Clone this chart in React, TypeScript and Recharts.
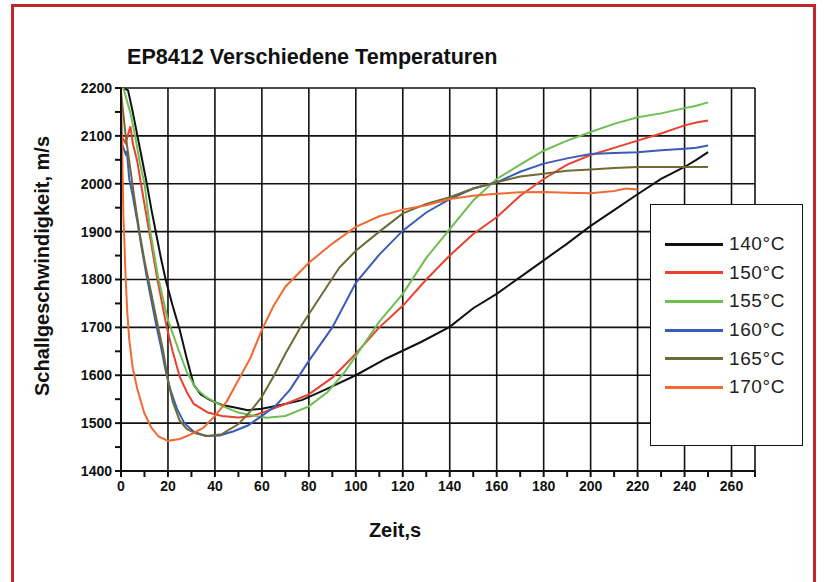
import React from 'react';
import { LineChart, Line, XAxis, YAxis, CartesianGrid, Legend } from 'recharts';

const title = 'EP8412 Verschiedene Temperaturen';
const xLabel = 'Zeit,s';
const yLabel = 'Schallgeschwindigkeit, m/s';

const xTicks = [0, 10, 20, 30, 40, 50, 60, 70, 80, 90, 100, 110, 120, 130, 140, 150, 160, 170, 180, 190, 200, 210, 220, 230, 240, 250, 260, 270];
const xGrid = [0, 20, 40, 60, 80, 100, 120, 140, 160, 180, 200, 220, 240, 260, 270];
const yTicks = [1400, 1450, 1500, 1550, 1600, 1650, 1700, 1750, 1800, 1850, 1900, 1950, 2000, 2050, 2100, 2150, 2200];
const yGrid = [1400, 1500, 1600, 1700, 1800, 1900, 2000, 2100, 2200];

const names = ['140°C', '150°C', '155°C', '160°C', '165°C', '170°C'];
const colors = ['#111111', '#e8412e', '#6cc052', '#3a5cb8', '#6d6a33', '#f06a32'];

const t140 = [1, 3, 5, 7, 9, 11, 13, 15, 17, 19, 22, 25, 28, 31, 34, 38, 43, 48, 54, 60, 68, 77, 87, 100, 113, 128, 140, 150, 160, 170, 180, 190, 200, 210, 220, 230, 240, 245, 250];
const v140 = [2200, 2195, 2150, 2100, 2050, 2000, 1945, 1895, 1845, 1800, 1745, 1695, 1635, 1580, 1560, 1548, 1538, 1533, 1527, 1530, 1538, 1548, 1570, 1600, 1635, 1670, 1701, 1740, 1770, 1805, 1840, 1875, 1912, 1945, 1978, 2010, 2035, 2050, 2066];

const t150 = [0, 2, 4, 5, 7, 8.5, 12, 15.5, 19.5, 22, 25, 28, 31, 37, 43, 50, 56, 62, 70, 80, 90, 100, 110, 120, 130, 140, 150, 160, 170, 180, 190, 200, 210, 220, 230, 240, 245, 250];
const v150 = [2100, 2085, 2120, 2085, 2045, 2000, 1900, 1800, 1700, 1650, 1597, 1565, 1540, 1522, 1515, 1512, 1515, 1525, 1540, 1560, 1595, 1645, 1700, 1745, 1800, 1850, 1895, 1930, 1975, 2010, 2040, 2060, 2075, 2090, 2105, 2122, 2128, 2132];

const t155 = [0, 1, 4, 6, 8, 10, 12.5, 16, 20, 24, 28, 32, 36, 40, 45, 50, 55, 62, 70, 80, 88, 95, 100, 110, 120, 130, 140, 150, 160, 170, 180, 190, 200, 210, 220, 230, 240, 245, 250];
const v155 = [2200, 2200, 2148, 2100, 2045, 2000, 1900, 1800, 1715, 1660, 1607, 1572, 1555, 1544, 1532, 1522, 1517, 1511, 1515, 1535, 1565, 1605, 1640, 1712, 1770, 1845, 1905, 1965, 2010, 2040, 2069, 2090, 2108, 2125, 2139, 2147, 2158, 2163, 2170];

const t160 = [0, 1, 2, 2.5, 3.5, 5, 7, 9, 11, 13, 15, 17, 19, 21, 24, 27, 31, 36, 42, 48, 54, 60, 66, 72, 80, 90, 100, 110, 120, 130, 140, 150, 160, 170, 180, 190, 200, 210, 220, 230, 240, 245, 250];
const v160 = [2090, 2075, 2062, 2068, 2010, 1975, 1920, 1860, 1805, 1755, 1705, 1660, 1610, 1570, 1528, 1500, 1482, 1473, 1474, 1483, 1495, 1515, 1537, 1570, 1630, 1700, 1793, 1852, 1902, 1940, 1968, 1990, 2003, 2025, 2042, 2053, 2062, 2064, 2066, 2070, 2073, 2075, 2080];

const t165 = [0, 2, 4, 6, 8, 10, 12.5, 15, 18, 20, 22, 25, 28, 32, 37, 43, 50, 55, 60, 65, 70, 77, 85, 93, 100, 110, 120, 130, 140, 150, 160, 170, 180, 190, 200, 210, 220, 230, 240, 250];
const v165 = [2190, 2100, 2030, 1960, 1895, 1840, 1780, 1720, 1650, 1590, 1545, 1505, 1488, 1478, 1473, 1477, 1498, 1524, 1555, 1598, 1645, 1705, 1765, 1825, 1860, 1900, 1938, 1958, 1972, 1990, 2003, 2015, 2021, 2027, 2030, 2033, 2035, 2035, 2035, 2035];

const t170 = [0, 0.5, 1, 1.5, 2, 2.7, 3.5, 5, 7, 10, 13, 16, 20, 25, 30, 35, 40, 45, 50, 55, 60, 65, 70, 80, 90, 100, 110, 120, 130, 140, 150, 160, 170, 180, 190, 200, 210, 215, 220];
const v170 = [2200, 2080, 1935, 1870, 1800, 1730, 1675, 1615, 1570, 1520, 1490, 1472, 1463, 1467, 1477, 1490, 1515, 1545, 1590, 1635, 1695, 1745, 1785, 1835, 1875, 1910, 1932, 1946, 1955, 1968, 1975, 1979, 1982, 1983, 1981, 1980, 1985, 1990, 1988];

const times = [t140, t150, t155, t160, t165, t170];
const values = [v140, v150, v155, v160, v165, v170];

const seriesData = times.map((ts, i) => ts.map((t, j) => ({ t, v: values[i][j] })));

const FONT = "'Liberation Sans', Arial, Helvetica, sans-serif";

const LegendBox = () => (
  <div
    style={{
      width: 153,
      height: 242,
      background: '#fff',
      border: '1.5px solid #111',
      boxSizing: 'border-box',
      paddingTop: 25,
      fontFamily: FONT,
    }}
  >
    {names.map((n, i) => (
      <div key={n} style={{ display: 'flex', alignItems: 'center', height: 28.6, marginLeft: 14 }}>
        <div style={{ width: 58, height: 3, background: colors[i] }} />
        <span style={{ marginLeft: 6, fontSize: 19, color: '#222', letterSpacing: 0.6 }}>{n}</span>
      </div>
    ))}
  </div>
);

export default function App() {
  return (
    <div style={{ position: 'absolute', left: 0, top: 0, width: 826, height: 582, overflow: 'hidden', background: '#fff' }}>
      <div
        style={{
          position: 'absolute',
          left: 11,
          top: 4,
          width: 805,
          height: 620,
          border: '3px solid #c1272d',
          boxSizing: 'border-box',
        }}
      />
      <div
        style={{
          position: 'absolute',
          left: 127,
          top: 44,
          fontFamily: FONT,
          fontWeight: 'bold',
          fontSize: 21.6,
          color: '#111',
          whiteSpace: 'nowrap',
        }}
      >
        {title}
      </div>
      <div
        style={{
          position: 'absolute',
          left: 42,
          top: 266,
          transform: 'translate(-50%, -50%) rotate(-90deg)',
          fontFamily: FONT,
          fontWeight: 'bold',
          fontSize: 20,
          color: '#111',
          whiteSpace: 'nowrap',
        }}
      >
        {yLabel}
      </div>
      <div
        style={{
          position: 'absolute',
          left: 395,
          top: 530,
          transform: 'translate(-50%, -50%)',
          fontFamily: FONT,
          fontWeight: 'bold',
          fontSize: 20,
          color: '#111',
          whiteSpace: 'nowrap',
        }}
      >
        {xLabel}
      </div>
      <div style={{ position: 'absolute', left: 0, top: 0 }}>
        <LineChart width={826} height={582} margin={{ top: 88, right: 71, bottom: 71, left: 61 }}>
          <CartesianGrid
            stroke="#111"
            strokeWidth={1.6}
            horizontalValues={yGrid}
            verticalValues={xGrid}
          />
          <XAxis
            type="number"
            dataKey="t"
            domain={[0, 270]}
            ticks={xTicks}
            interval={0}
            allowDataOverflow
            height={40}
            tickSize={6}
            tickMargin={4}
            stroke="#111"
            strokeWidth={2}
            tickFormatter={(v: number) => (v % 20 === 0 && v <= 260 ? String(v) : '')}
            tick={{ fill: '#111', fontSize: 14, fontWeight: 'bold', fontFamily: FONT }}
          />
          <YAxis
            type="number"
            dataKey="v"
            domain={[1400, 2200]}
            ticks={yTicks}
            interval={0}
            allowDataOverflow
            width={60}
            tickSize={6}
            tickMargin={3}
            stroke="#111"
            strokeWidth={2}
            tickFormatter={(v: number) => (v % 100 === 0 ? String(v) : '')}
            tick={{ fill: '#111', fontSize: 14, fontWeight: 'bold', fontFamily: FONT }}
          />
          <Legend
            layout="horizontal"
            verticalAlign="middle"
            align="center"
            content={() => <LegendBox />}
            wrapperStyle={{ position: 'absolute', left: 650, top: 204, width: 153, height: 242 }}
          />
          {seriesData.map((d, i) => (
            <Line
              key={names[i]}
              data={d}
              dataKey="v"
              name={names[i]}
              type="linear"
              stroke={colors[i]}
              strokeWidth={2}
              dot={false}
              activeDot={false}
              isAnimationActive={false}
            />
          ))}
        </LineChart>
      </div>
    </div>
  );
}
